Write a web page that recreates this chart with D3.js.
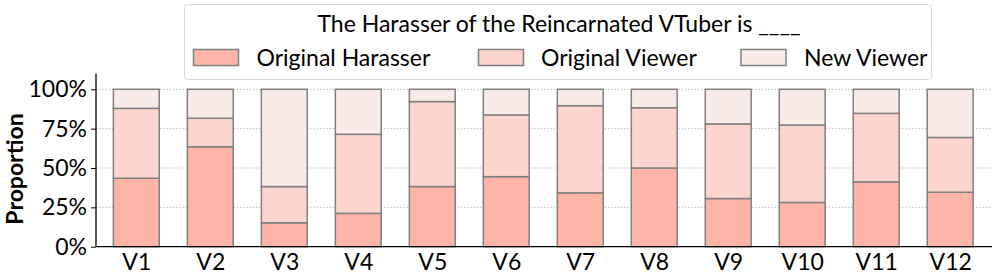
<!DOCTYPE html>
<html>
<head>
<meta charset="utf-8">
<script src="https://cdn.jsdelivr.net/npm/d3@7"></script>
<style>
  html, body { margin: 0; padding: 0; background: #fff; }
  svg { display: block; font-family: "Lato", "Open Sans", sans-serif; }
</style>
</head>
<body>
<svg id="chart" width="997" height="280"></svg>
<script>
// ---- data ----
const categories = ["V1","V2","V3","V4","V5","V6","V7","V8","V9","V10","V11","V12"];
const seriesNames = ["Original Harasser", "Original Viewer", "New Viewer"];
const originalHarasser = [43.5, 63.5, 15.2, 21.2, 38.2, 44.5, 34.2, 50.0, 30.6, 28.1, 41.2, 34.6];
const originalViewer   = [44.4, 18.1, 23.0, 50.2, 54.0, 39.2, 55.4, 38.3, 47.4, 49.2, 43.5, 34.8];
const newViewer        = [12.1, 18.4, 61.8, 28.6,  7.8, 16.3, 10.4, 11.7, 22.0, 22.7, 15.3, 30.6];
const yTicks = [0, 25, 50, 75, 100];
const legendTitle = "The Harasser of the Reincarnated VTuber is ____";
const yLabel = "Proportion";

const colors = ["#ffb4a8", "#fcd5cf", "#f8ebe8"];
const edge = "#808080";

const svg = d3.select("#chart");
const left = 96, right = 992, bottom = 246.7;
const x = d3.scaleLinear().domain([-0.545, 11.565]).range([left, right]);
const y = d3.scaleLinear().domain([0, 110]).range([bottom, bottom - 157.4 * 1.1]);
const barW = x(0.62) - x(0);

// gridlines
svg.append("g").selectAll("line").data(yTicks.filter(d => d > 0)).join("line")
  .attr("x1", left).attr("x2", right)
  .attr("y1", d => y(d)).attr("y2", d => y(d))
  .attr("stroke", "#b0b0b0").attr("stroke-width", 1)
  .attr("stroke-dasharray", "1.2,2");

// stacked bars
const rows = categories.map((c, i) => ({cat: c, i,
  "Original Harasser": originalHarasser[i],
  "Original Viewer": originalViewer[i],
  "New Viewer": newViewer[i]}));
const stack = d3.stack().keys(seriesNames)(rows);
stack.forEach((layer, k) => {
  svg.append("g").selectAll("rect").data(layer).join("rect")
    .attr("x", d => x(d.data.i) - barW / 2)
    .attr("width", barW)
    .attr("y", d => y(d[1]))
    .attr("height", d => y(d[0]) - y(d[1]))
    .attr("fill", colors[k])
    .attr("stroke", edge).attr("stroke-width", 1.5);
});

// y axis
const yAxis = d3.axisLeft(y).tickValues(yTicks).tickFormat(d => d + "%").tickSize(5).tickPadding(4);
const gy = svg.append("g").attr("transform", `translate(${left},0)`).call(yAxis);
gy.select(".domain").attr("d", `M0,${y(110)}V${bottom}`).attr("stroke", "#000").attr("stroke-width", 1.3);
gy.selectAll(".tick line").attr("stroke", "#000").attr("stroke-width", 1);
gy.selectAll(".tick text").attr("font-size", 23).attr("font-family", "Lato").attr("fill", "#000");

// x axis
const xAxis = d3.axisBottom(x).tickValues(d3.range(categories.length)).tickFormat(i => categories[i]).tickSize(0).tickPadding(7);
const gx = svg.append("g").attr("transform", `translate(0,${bottom})`).call(xAxis);
gx.select(".domain").attr("d", `M${left},0H${right}`).attr("stroke", "#000").attr("stroke-width", 1.3);
gx.selectAll(".tick text").attr("font-size", 23).attr("font-family", "Lato").attr("fill", "#000");

// y label
svg.append("text")
  .attr("transform", `translate(23,${(y(0) + y(100)) / 2 + 1}) rotate(-90)`)
  .attr("text-anchor", "middle")
  .attr("font-size", 23).attr("font-weight", "bold").attr("fill", "#000")
  .text(yLabel);

// legend
const lg = svg.append("g");
lg.append("rect").attr("x", 184.5).attr("y", 4.5).attr("width", 747).attr("height", 75)
  .attr("rx", 3).attr("fill", "#fff").attr("fill-opacity", 0.85)
  .attr("stroke", "#d6d6d6").attr("stroke-width", 1);
lg.append("text").attr("x", 559).attr("y", 32).attr("text-anchor", "middle")
  .attr("font-size", 23).attr("fill", "#000").text(legendTitle);
const patchX = [193.5, 478.5, 741];
const textX = [256.5, 541, 804];
seriesNames.forEach((s, k) => {
  lg.append("rect").attr("x", patchX[k]).attr("y", 49.5).attr("width", 45).attr("height", 16)
    .attr("fill", colors[k]).attr("stroke", edge).attr("stroke-width", 1.5);
  lg.append("text").attr("x", textX[k]).attr("y", 65.5)
    .attr("font-size", 23).attr("fill", "#000").text(s);
});
</script>
</body>
</html>
